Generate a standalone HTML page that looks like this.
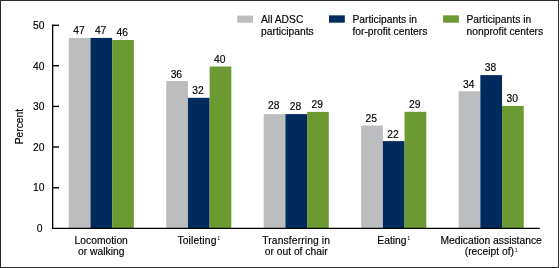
<!DOCTYPE html>
<html><head><meta charset="utf-8"><style>
html,body{margin:0;padding:0;background:#fff;width:560px;height:268px;overflow:hidden}
svg{display:block;will-change:transform}
text{font-family:"Liberation Sans",sans-serif;fill:#000;stroke:#000;stroke-width:0.15px}
</style></head><body>
<svg width="560" height="268" viewBox="0 0 560 268">
<rect x="0.5" y="0.5" width="558" height="267" fill="#fff" stroke="#2a2a2a" stroke-width="1"/>
<rect x="68.76" y="38.00" width="21.7" height="190.00" fill="#bcbdbf"/>
<text x="78.91" y="34.40" text-anchor="middle" font-size="10.3">47</text>
<rect x="90.46" y="37.90" width="21.7" height="190.10" fill="#002b5c"/>
<text x="100.61" y="33.70" text-anchor="middle" font-size="10.3">47</text>
<rect x="112.16" y="40.00" width="21.7" height="188.00" fill="#6b9a33"/>
<text x="122.31" y="36.45" text-anchor="middle" font-size="10.3">46</text>
<rect x="166.23" y="81.00" width="21.7" height="147.00" fill="#bcbdbf"/>
<text x="176.38" y="77.65" text-anchor="middle" font-size="10.3">36</text>
<rect x="187.93" y="97.80" width="21.7" height="130.20" fill="#002b5c"/>
<text x="198.08" y="93.60" text-anchor="middle" font-size="10.3">32</text>
<rect x="209.63" y="66.50" width="21.7" height="161.50" fill="#6b9a33"/>
<text x="219.78" y="62.60" text-anchor="middle" font-size="10.3">40</text>
<rect x="263.70" y="114.10" width="21.7" height="113.90" fill="#bcbdbf"/>
<text x="273.85" y="108.80" text-anchor="middle" font-size="10.3">28</text>
<rect x="285.40" y="114.10" width="21.7" height="113.90" fill="#002b5c"/>
<text x="295.55" y="110.10" text-anchor="middle" font-size="10.3">28</text>
<rect x="307.10" y="111.90" width="21.7" height="116.10" fill="#6b9a33"/>
<text x="317.25" y="108.40" text-anchor="middle" font-size="10.3">29</text>
<rect x="361.17" y="125.60" width="21.7" height="102.40" fill="#bcbdbf"/>
<text x="371.32" y="121.50" text-anchor="middle" font-size="10.3">25</text>
<rect x="382.87" y="141.10" width="21.7" height="86.90" fill="#002b5c"/>
<text x="393.02" y="137.60" text-anchor="middle" font-size="10.3">22</text>
<rect x="404.57" y="111.80" width="21.7" height="116.20" fill="#6b9a33"/>
<text x="414.72" y="108.00" text-anchor="middle" font-size="10.3">29</text>
<rect x="458.64" y="91.20" width="21.7" height="136.80" fill="#bcbdbf"/>
<text x="468.79" y="87.90" text-anchor="middle" font-size="10.3">34</text>
<rect x="480.34" y="75.10" width="21.7" height="152.90" fill="#002b5c"/>
<text x="490.49" y="71.35" text-anchor="middle" font-size="10.3">38</text>
<rect x="502.04" y="105.90" width="21.7" height="122.10" fill="#6b9a33"/>
<text x="512.19" y="102.10" text-anchor="middle" font-size="10.3">30</text>
<path d="M52.65 24.6 V228.4" fill="none" stroke="#000" stroke-width="1.3"/>
<path d="M52 228.4 H539.8" fill="none" stroke="#000" stroke-width="1.2"/>
<text x="42.6" y="231.60" text-anchor="end" font-size="10.3">0</text>
<path d="M52.65 187.8 H59" stroke="#000" stroke-width="1.4"/>
<text x="44.5" y="191.40" text-anchor="end" font-size="10.3">10</text>
<path d="M52.65 147.0 H59" stroke="#000" stroke-width="1.4"/>
<text x="44.5" y="150.60" text-anchor="end" font-size="10.3">20</text>
<path d="M52.65 106.4 H59" stroke="#000" stroke-width="1.4"/>
<text x="44.5" y="110.00" text-anchor="end" font-size="10.3">30</text>
<path d="M52.65 65.7 H59" stroke="#000" stroke-width="1.4"/>
<text x="44.5" y="69.75" text-anchor="end" font-size="10.3">40</text>
<path d="M52.65 25.3 H59" stroke="#000" stroke-width="1.4"/>
<text x="44.5" y="28.90" text-anchor="end" font-size="10.3">50</text>
<text transform="translate(23.1 126.6) rotate(-90)" text-anchor="middle" font-size="10.3">Percent</text>
<text x="101.23" y="243.9" text-anchor="middle" font-size="10.3">Locomotion</text>
<text x="101.23" y="255.4" text-anchor="middle" font-size="10.3">or walking</text>
<text x="198.70" y="243.8" text-anchor="middle" font-size="10.3"><tspan letter-spacing="0.15">Toileting</tspan><tspan font-size="4.6" dx="0.9" dy="-3.7" stroke="#000" stroke-width="0.05">1</tspan></text>
<text x="296.18" y="243.9" letter-spacing="0.12" text-anchor="middle" font-size="10.3">Transferring in</text>
<text x="296.18" y="255.4" text-anchor="middle" font-size="10.3">or out of chair</text>
<text x="393.64" y="243.8" text-anchor="middle" font-size="10.3"><tspan>Eating</tspan><tspan font-size="4.6" dx="0.9" dy="-3.7" stroke="#000" stroke-width="0.05">1</tspan></text>
<text x="491.12" y="243.9" text-anchor="middle" font-size="10.3">Medication assistance</text>
<text x="491.12" y="255.4" text-anchor="middle" font-size="10.3">(receipt of)<tspan font-size="4.6" dx="0.9" dy="-3.7" stroke="#000" stroke-width="0.05">1</tspan></text>
<rect x="237.2" y="15.6" width="15.8" height="7.1" fill="#bcbdbf"/>
<text x="261.0" y="23.2" font-size="10.3">All ADSC</text>
<text x="261.0" y="35.0" font-size="10.3">participants</text>
<rect x="329.0" y="15.35" width="15.8" height="7.35" fill="#002b5c"/>
<text x="352.4" y="23.2" font-size="10.3">Participants in</text>
<text x="352.4" y="35.0" font-size="10.3">for-profit centers</text>
<rect x="443.1" y="15.35" width="15.8" height="7.35" fill="#6b9a33"/>
<text x="466.5" y="23.2" font-size="10.3">Participants in</text>
<text x="466.5" y="35.0" font-size="10.3">nonprofit centers</text>
</svg>
</body></html>
